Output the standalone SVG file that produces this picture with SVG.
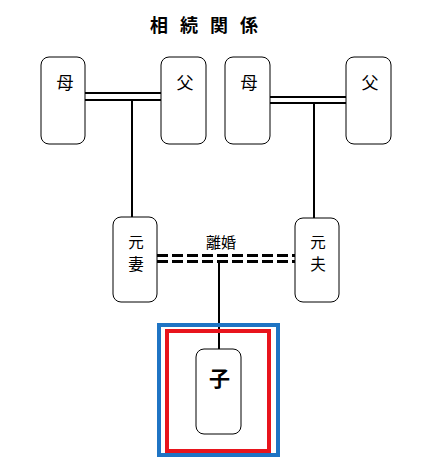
<svg xmlns="http://www.w3.org/2000/svg" width="430" height="467" viewBox="0 0 430 467">
<style>
.box{fill:#fff;stroke:#000;stroke-width:1}
.t{font-family:"Noto Sans CJK JP","Noto Sans CJK SC",sans-serif;font-size:17px;fill:#000;text-anchor:middle}
.s{font-size:15.5px}
.ln{stroke:#000;stroke-width:2;fill:none}
.dash{stroke:#000;stroke-width:3;stroke-dasharray:11 4;fill:none}
</style>
<rect width="430" height="467" fill="#fff"/>
<text x="210" y="32" class="t" style="font-size:18px;font-weight:bold;letter-spacing:12px" text-anchor="middle">相続関係</text>
<g id="connectors">
<line class="ln" x1="85" y1="93" x2="161" y2="93"/>
<line class="ln" x1="85" y1="100" x2="161" y2="100"/>
<line class="ln" x1="132" y1="100" x2="132" y2="217"/>
<line class="ln" x1="270" y1="97" x2="346" y2="97"/>
<line class="ln" x1="270" y1="103" x2="346" y2="103"/>
<line class="ln" x1="314" y1="103" x2="314" y2="218"/>
<line class="dash" x1="157" y1="255.5" x2="295" y2="255.5"/>
<line class="dash" x1="157" y1="261.5" x2="295" y2="261.5"/>
<line class="ln" x1="219" y1="262" x2="219" y2="349"/>
<text x="221" y="248" class="t" style="font-size:15px">離婚</text>
</g>
<g id="n-mother1"><rect class="box" x="41" y="57" width="44" height="87" rx="8"/><text x="65" y="89" class="t">母</text></g>
<g id="n-father1"><rect class="box" x="161" y="57" width="45" height="87" rx="8"/><text x="185" y="89" class="t">父</text></g>
<g id="n-mother2"><rect class="box" x="225" y="57" width="45" height="87" rx="8"/><text x="249" y="89" class="t">母</text></g>
<g id="n-father2"><rect class="box" x="346" y="57" width="45" height="87" rx="8"/><text x="370" y="89" class="t">父</text></g>
<g id="n-exwife"><rect class="box" x="113" y="217" width="44" height="85" rx="8"/><text x="136" y="248" class="t s">元</text><text x="136" y="270" class="t s">妻</text></g>
<g id="n-exhusband"><rect class="box" x="295" y="218" width="44" height="84" rx="8"/><text x="318" y="248" class="t s">元</text><text x="318" y="270" class="t s">夫</text></g>
<g id="n-child">
<rect x="159" y="325" width="119" height="130" fill="none" stroke="#1f74c4" stroke-width="4"/>
<rect x="167" y="331" width="102" height="120" fill="none" stroke="#e8141c" stroke-width="4"/>
<rect class="box" x="196" y="349" width="45" height="85" rx="8"/>
<text x="219.5" y="386" class="t" style="font-size:21px;font-weight:bold">子</text>
</g>
</svg>
